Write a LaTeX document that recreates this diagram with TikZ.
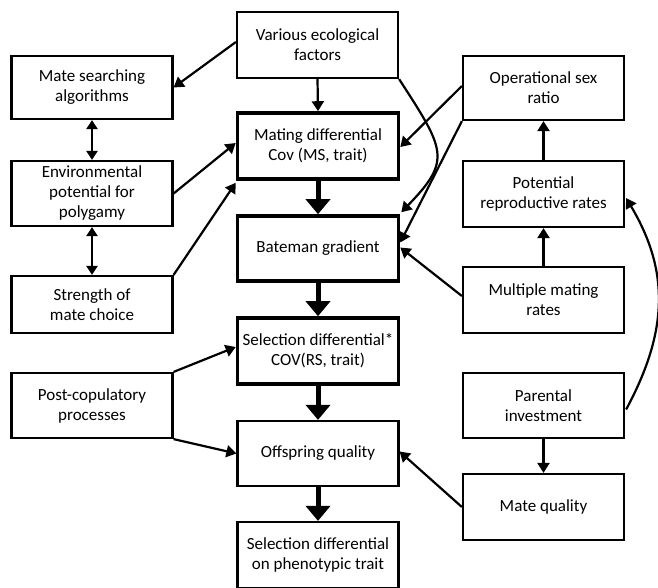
\documentclass[tikz,border=0pt]{standalone}
\usepackage{fontspec}
\setmainfont{Carlito}
\usetikzlibrary{arrows.meta,calc}
\begin{document}
\begin{tikzpicture}[x=1pt,y=-1pt,
  box/.style={draw, line width=2.2pt, minimum width=161pt, minimum height=65pt, inner sep=2pt, align=center, font=\fontsize{17}{20}\selectfont},
  tbox/.style={box, line width=3.6pt},
  arr/.style={line width=2.2pt, -{Triangle[length=10pt,width=12pt]}},
  darr/.style={line width=2.2pt, {Triangle[length=9pt,width=11pt]}-{Triangle[length=9pt,width=11pt]}},
  bigarr/.style={line width=5pt, -{Triangle[length=15pt,width=24pt]}}]
\clip (0,0) rectangle (658,587);
\useasboundingbox (0,0) rectangle (658,587);
% centre column
\node[box, minimum height=66pt] (various) at (317.5,45) {Various ecological\\factors};
\node[tbox, minimum height=66pt] (mating) at (318,146) {Mating differential\\Cov (MS, trait)};
\node[tbox] (bateman) at (318,248.5) {Bateman gradient};
\node[tbox, minimum height=66pt] (seldiff) at (318,351) {Selection differential*\\COV(RS, trait)};
\node[box] (offspring) at (318,453.5) {Offspring quality};
\node[box, minimum height=66pt] (selpheno) at (318,555) {Selection differential\\on phenotypic trait};
% left column
\node[box, minimum height=63pt] (mate) at (92,87.5) {Mate searching\\algorithms};
\node[box] (env) at (92,193.5) {Environmental\\potential for\\polygamy};
\node[box, minimum height=57pt] (strength) at (92,304.5) {Strength of\\mate choice};
\node[box] (post) at (92,405.5) {Post-copulatory\\processes};
% right column
\node[box, minimum height=64pt] (osr) at (543.5,88) {Operational sex\\ratio};
\node[box, minimum height=66pt] (prr) at (543.5,194) {Potential\\reproductive rates};
\node[box, minimum height=66pt] (mmr) at (543.5,300) {Multiple mating\\rates};
\node[box] (parental) at (543.5,405.5) {Parental\\investment};
\node[box, minimum height=66pt] (mq) at (543.5,507) {Mate quality};
% centre spine
\draw[arr] (various.south) -- (mating.north);
\draw[bigarr] (mating.south) -- (bateman.north);
\draw[bigarr] (bateman.south) -- (seldiff.north);
\draw[bigarr] (seldiff.south) -- (offspring.north);
\draw[bigarr] (offspring.south) -- (selpheno.north);
% left links
\draw[arr] ($(various.west)+(0,-3)$) -- (mate.east);
\draw[darr] (mate.south) -- (env.north);
\draw[darr] (env.south) -- (strength.north);
\draw[arr] (env.east) -- ($(mating.west)+(0,-3)$);
\draw[arr] (strength.north east) -- ($(mating.south west)+(0,2)$);
\draw[arr] (post.north east) -- ($(seldiff.west)+(0,-4)$);
\draw[arr] (post.south east) -- (offspring.west);
% right links
\draw[arr] ($(osr.west)+(0,-2)$) -- ($(mating.east)+(0,1)$);
\draw[arr] (osr.south west) -- ($(bateman.east)+(0,-6)$);
\draw[arr] ($(mmr.west)+(0,-4)$) -- ($(bateman.east)+(0,-1)$);
\draw[arr] (mmr.north) -- (prr.south);
\draw[arr] (prr.north) -- (osr.south);
\draw[arr] (parental.south) -- (mq.north);
\draw[arr] (mq.west) -- ($(offspring.east)+(0,-2)$);
% curved links
\draw[arr] (various.south east) .. controls (445,150) and (452,160) .. ($(bateman.north east)+(1,-2)$);
\draw[arr] ($(parental.east)+(1,4)$) .. controls (669,330) and (669,270) .. ($(prr.east)+(1,4)$);
\end{tikzpicture}
\end{document}
